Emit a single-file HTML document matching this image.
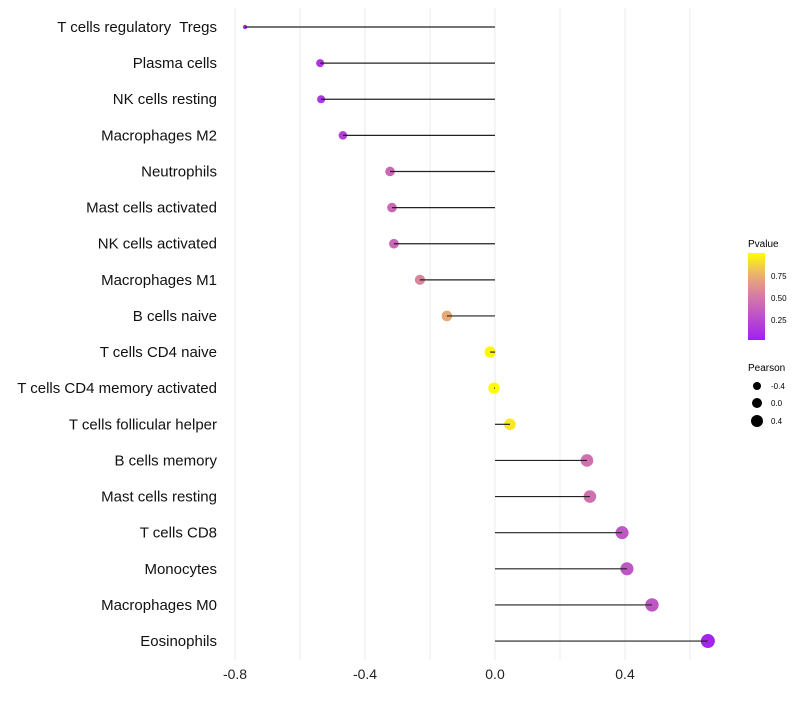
<!DOCTYPE html>
<html><head><meta charset="utf-8"><style>
body{margin:0;background:#fff;font-family:"Liberation Sans",sans-serif}
</style></head><body>
<svg id="c" width="800" height="700" xmlns="http://www.w3.org/2000/svg">
<defs><linearGradient id="pg" x1="0" y1="1" x2="0" y2="0">
<stop offset="0" stop-color="#a020f0"/><stop offset="0.5" stop-color="#d47aa8"/><stop offset="0.75" stop-color="#eab070"/><stop offset="1" stop-color="#ffff00"/></linearGradient></defs>
<g id="grid"></g>
<g id="dots"></g>
<g id="marks"></g>
<g id="ylab"></g>
<g id="xlab"></g>
<g>
<text x="748" y="247" font-size="10">Pvalue</text>
<rect x="748" y="253" width="17" height="87" fill="url(#pg)"/>
<text x="771" y="279" font-size="8">0.75</text>
<text x="771" y="301" font-size="8">0.50</text>
<text x="771" y="323" font-size="8">0.25</text>
</g>
<g>
<text x="748" y="371" font-size="10">Pearson</text>
<circle cx="757" cy="386" r="4"/><text x="771" y="389" font-size="8">-0.4</text>
<circle cx="757" cy="403" r="5"/><text x="771" y="406" font-size="8">0.0</text>
<circle cx="757" cy="421" r="6"/><text x="771" y="424" font-size="8">0.4</text>
</g>
</svg>
<script>
const categories=["T cells regulatory  Tregs","Plasma cells","NK cells resting","Macrophages M2","Neutrophils","Mast cells activated","NK cells activated","Macrophages M1","B cells naive","T cells CD4 naive","T cells CD4 memory activated","T cells follicular helper","B cells memory","Mast cells resting","T cells CD8","Monocytes","Macrophages M0","Eosinophils"];
const pearson=[-0.769,-0.538,-0.535,-0.468,-0.323,-0.317,-0.311,-0.231,-0.148,-0.015,-0.003,0.046,0.283,0.292,0.391,0.406,0.483,0.655];
const pvalues=[0.02,0.12,0.12,0.18,0.4,0.4,0.4,0.55,0.72,0.97,0.99,0.93,0.45,0.45,0.3,0.3,0.3,0.03];
const xTicks=[-0.8,-0.4,0.0,0.4];
const gridTicks=[-0.8,-0.6,-0.4,-0.2,0,0.2,0.4,0.6];
const NS="http://www.w3.org/2000/svg";
const x=v=>495+v*325;
const y=i=>27+i*36.12;
const r=v=>2+5*Math.sqrt(Math.max(0,v+0.77)/1.42);
const stops=[[0,[160,32,240]],[0.5,[212,122,168]],[0.75,[234,176,112]],[1,[255,255,0]]];
function col(p){for(let k=1;k<stops.length;k++){if(p<=stops[k][0]){const a=stops[k-1],b=stops[k],t=(p-a[0])/(b[0]-a[0]);return `rgb(${a[1].map((c,j)=>Math.round(c+(b[1][j]-c)*t)).join(',')})`;}}return 'rgb(255,255,0)';}
function mk(t,at,parent){const e=document.createElementNS(NS,t);for(const k in at)e.setAttribute(k,at[k]);document.getElementById(parent).appendChild(e);return e;}
gridTicks.forEach(v=>{const e=mk('line',{x1:x(v),x2:x(v),y1:8,y2:660,stroke:'#ebebeb','stroke-width':1},'grid');

});
xTicks.forEach(v=>{const e=mk('text',{x:x(v),y:679,'font-size':14,'text-anchor':'middle',fill:'#222'},'xlab');e.textContent=v.toFixed(1);

});
categories.forEach((c,i)=>{
const t=mk('text',{x:217,y:y(i)+5,'font-size':15,'text-anchor':'end',fill:'#111','xml:space':'preserve',style:'white-space:pre'},'ylab');t.textContent=c;


const d=mk('circle',{cx:x(pearson[i]),cy:y(i),r:r(pearson[i]),fill:col(pvalues[i])},'dots');


const l=mk('line',{x1:x(0),x2:x(pearson[i]),y1:y(i),y2:y(i),stroke:'#222','stroke-width':1.2},'marks');


});
</script>
</body></html>
